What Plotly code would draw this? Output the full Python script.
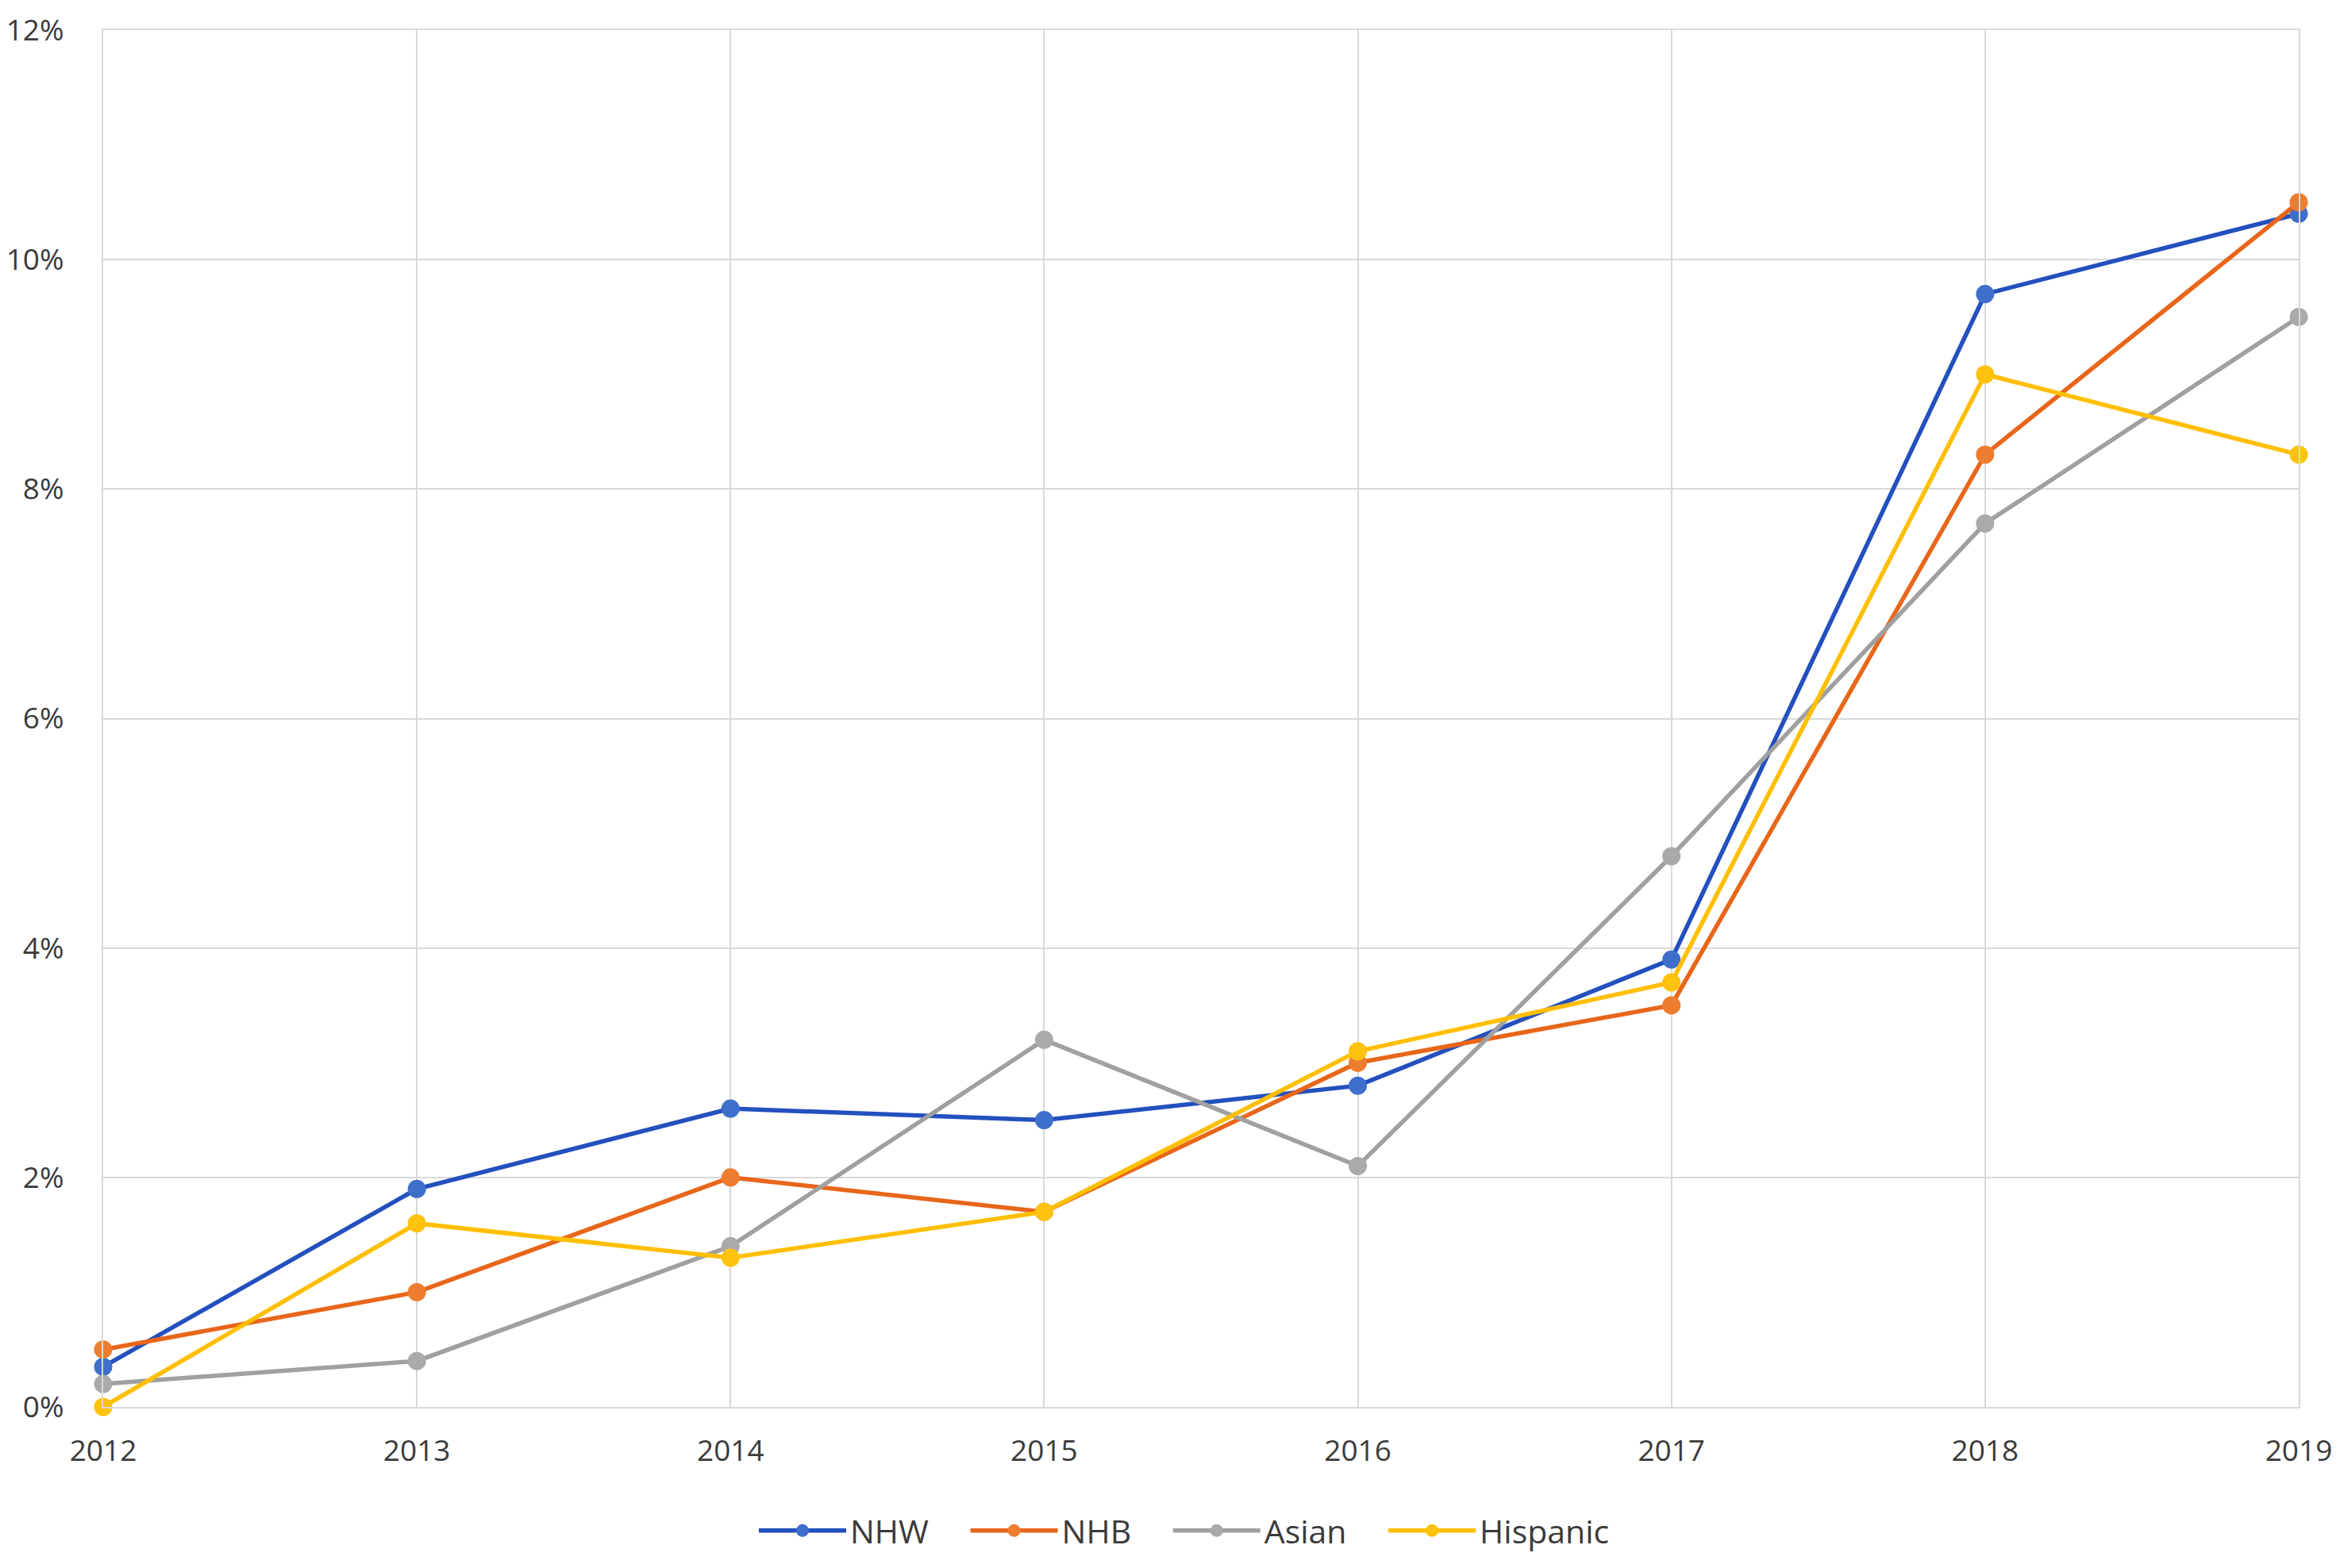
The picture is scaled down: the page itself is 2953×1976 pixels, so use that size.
import plotly.graph_objects as go

# ===== data (share of population, %) =====
years = [2012, 2013, 2014, 2015, 2016, 2017, 2018, 2019]
nhw = [0.35, 1.9, 2.6, 2.5, 2.8, 3.9, 9.7, 10.4]
nhb = [0.5, 1.0, 2.0, 1.7, 3.0, 3.5, 8.3, 10.5]
asian = [0.2, 0.4, 1.4, 3.2, 2.1, 4.8, 7.7, 9.5]
hispanic = [0.0, 1.6, 1.3, 1.7, 3.1, 3.7, 9.0, 8.3]

y_ticks = [0, 2, 4, 6, 8, 10, 12]
y_tick_labels = ["0%", "2%", "4%", "6%", "8%", "10%", "12%"]

series = [
    ("NHW", nhw, "#2350BE", "#3F6FCC"),
    ("NHB", nhb, "#E8661A", "#EE7D30"),
    ("Asian", asian, "#A0A0A0", "#AAAAAA"),
    ("Hispanic", hispanic, "#FFBF00", "#FFC20E"),
]

FONT = "Open Sans, Noto Sans, DejaVu Sans, sans-serif"
TEXT_COLOR = "#3b3b3b"
GRID = "#D9D9D9"
NBSP = "\u00a0"

fig = go.Figure()
for name, vals, line_c, marker_c in series:
    fig.add_trace(go.Scatter(
        x=years, y=vals, name=name + NBSP * 4, mode="lines+markers",
        line=dict(color=line_c, width=5.5),
        marker=dict(color=marker_c, size=23, line=dict(width=0)),
        cliponaxis=False,
    ))

# page body has an 8px margin, so the figure is a bit smaller than the window
fig.update_layout(
    width=2937, height=1960,
    margin=dict(l=122, r=49, t=30, b=195, autoexpand=False),
    plot_bgcolor="white", paper_bgcolor="white",
    font=dict(family=FONT, size=37, color=TEXT_COLOR),
    showlegend=True,
    legend=dict(
        orientation="h", x=0.5, xanchor="center", y=-0.09, yanchor="middle",
        font=dict(family=FONT, size=41, color=TEXT_COLOR),
        itemwidth=110, tracegroupgap=0,
    ),
)

fig.update_xaxes(
    range=[2012, 2019], tickmode="array", tickvals=years,
    ticktext=[str(y) for y in years],
    showgrid=True, gridcolor=GRID, gridwidth=2,
    showline=True, linecolor=GRID, linewidth=2, mirror=True,
    zeroline=False, ticks="", ticklabelstandoff=22,
    ticklabeloverflow="allow", automargin=False,
)
fig.update_yaxes(
    range=[0, 12], tickmode="array", tickvals=y_ticks, ticktext=y_tick_labels,
    showgrid=True, gridcolor=GRID, gridwidth=2,
    showline=True, linecolor=GRID, linewidth=2, mirror=True,
    zeroline=False, ticks="", ticklabelstandoff=40,
    ticklabeloverflow="allow", automargin=False,
)

fig.write_html("out.html")
